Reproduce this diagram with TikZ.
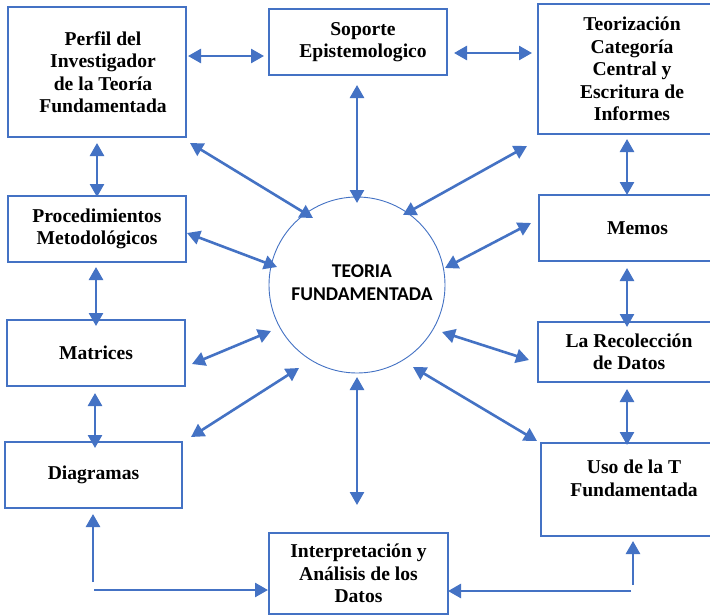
\documentclass[tikz,border=0pt]{standalone}
\usepackage{fontspec}
\setmainfont{Liberation Serif}
\newfontfamily\carlito{Carlito}
\usetikzlibrary{arrows.meta}
\definecolor{wblue}{HTML}{4472C4}
\tikzset{
  boxfont/.style={font=\fontsize{19.6}{22.5}\selectfont\bfseries, align=center},
  box/.style={draw=wblue, line width=1.2pt, rectangle, inner sep=0pt, boxfont},
  link/.style={draw=wblue, line width=2.6pt, {Triangle[length=13pt,width=14pt]}-{Triangle[length=13pt,width=14pt]}},
  onelink/.style={draw=wblue, line width=2.6pt, -{Triangle[length=13pt,width=14pt]}}
}
\begin{document}
\begin{tikzpicture}[x=1pt,y=-1pt]
\clip (0,0) rectangle (710,616);
\fill[white] (0,0) rectangle (710,616);
% boxes
\node[box, minimum width=178pt, minimum height=130pt] (perfil) at (97,72) {};
\node[boxfont] (perfiltext) at (103,72) {Perfil del\\Investigador\\de la Teoría\\Fundamentada};
\node[box, minimum width=178pt, minimum height=66pt] (soporte) at (358,42) {};
\node[boxfont] (soportetext) at (363,42) {Soporte\\Epistemologico};
\node[box, minimum width=188pt, minimum height=130pt] (teor) at (632,69) {Teorización\\Categoría\\Central y\\Escritura de\\Informes};
\node[box, minimum width=97pt, minimum height=66pt, minimum width=197pt] (memos) at (637.5,228) {Memos};
\node[box, minimum width=178pt, minimum height=66pt] (proc) at (97,229) {Procedimientos\\Metodológicos};
\node[box, minimum width=178pt, minimum height=66pt] (matrices) at (96,353) {Matrices};
\node[box, minimum width=182pt, minimum height=60pt] (recol) at (629,352) {La Recolección\\de Datos};
\node[box, minimum width=177pt, minimum height=66pt] (diag) at (93.5,475) {Diagramas};
\node[box, minimum width=186pt, minimum height=93pt] (uso) at (634,489.5) {Uso de la T\\Fundamentada\\\mbox{}};
\node[box, minimum width=179pt, minimum height=81pt] (interp) at (358.5,573.5) {Interpretación y\\Análisis de los\\Datos};
% circle
\node[draw=wblue, line width=0.9pt, circle, minimum size=176pt, inner sep=0pt] (tf) at (357,285) {};
\node[align=center, font=\carlito\fontsize{19.5}{23}\selectfont\bfseries] (tftext) at (362,283) {TEORIA\\FUNDAMENTADA};
% arrow end points
\coordinate (a1) at (188,56);  \coordinate (b1) at (264,56);
\coordinate (a2) at (454,53);  \coordinate (b2) at (532,53);
\coordinate (a3) at (97,143);  \coordinate (b3) at (97,197);
\coordinate (a4) at (627,139); \coordinate (b4) at (627,195);
\coordinate (a5) at (96,267);  \coordinate (b5) at (96,326);
\coordinate (a6) at (627,268); \coordinate (b6) at (627,327);
\coordinate (a7) at (95,393);  \coordinate (b7) at (95,448);
\coordinate (a8) at (627,389); \coordinate (b8) at (627,445);
\coordinate (a9) at (357,85);  \coordinate (b9) at (357,203);
\coordinate (a10) at (357,377); \coordinate (b10) at (357,505);
\coordinate (a11) at (190,143); \coordinate (b11) at (313,218);
\coordinate (a12) at (527,146); \coordinate (b12) at (403,215);
\coordinate (a13) at (187,233); \coordinate (b13) at (277,267);
\coordinate (a14) at (531,223); \coordinate (b14) at (445,268);
\coordinate (a15) at (192,364); \coordinate (b15) at (271,331);
\coordinate (a16) at (529,360); \coordinate (b16) at (442,332);
\coordinate (a17) at (191,437); \coordinate (b17) at (299,368);
\coordinate (a18) at (537,441); \coordinate (b18) at (413,367);
\coordinate (c1) at (93,582);  \coordinate (d1) at (93,514);
\coordinate (c2) at (94,590);  \coordinate (d2) at (268,590);
\coordinate (c3) at (633,585); \coordinate (d3) at (633,541);
\coordinate (c4) at (631,591); \coordinate (d4) at (448,591);
% double arrows
\foreach \i in {1,...,18} { \draw[link] (a\i) -- (b\i); }
% single arrows
\foreach \i in {1,...,4} { \draw[onelink] (c\i) -- (d\i); }
\end{tikzpicture}
\end{document}
